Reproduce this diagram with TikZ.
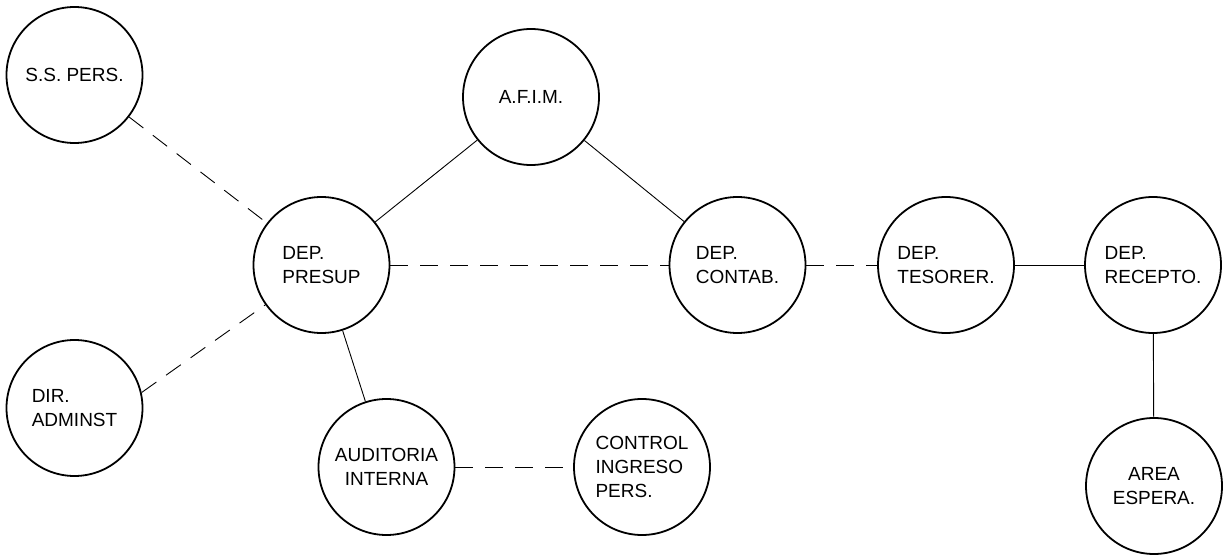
\documentclass[tikz,border=0pt]{standalone}
\usepackage{fontspec}
\setmainfont{Liberation Sans}
\newdimen\unitsize
\setlength{\unitsize}{0.5pt}

\begin{document}
\begin{tikzpicture}[x=\unitsize,y=-\unitsize]
\tikzset{office/.style={draw, circle, line width=0.9pt, minimum size=68pt, inner sep=0pt, align=left, font=\fontsize{9.5}{12}\selectfont}}%
\tikzset{link/.style={line width=0.45pt}}%
\tikzset{weaklink/.style={line width=0.45pt, dash pattern=on 9pt off 6pt}}%
\useasboundingbox (0,0) rectangle (1225,556);
\node[office] (ss) at (74.5,75) {S.S. PERS.};
\node[office] (afim) at (531,97) {A.F.I.M.};
\node[office] (presup) at (321.5,265) {DEP.\\PRESUP};
\node[office] (contab) at (737.5,265) {DEP.\\CONTAB.};
\node[office] (tesorer) at (946,265) {DEP.\\TESORER.};
\node[office] (recepto) at (1153,265) {DEP.\\RECEPTO.};
\node[office] (dir) at (74.5,408) {DIR.\\ADMINST};
\node[office, align=center] (audit) at (386.5,467) {AUDITORIA\\INTERNA};
\node[office] (control) at (642,467) {CONTROL\\INGRESO\\PERS.};
\node[office, align=center] (espera) at (1154,486) {AREA\\ESPERA.};
\draw[weaklink] (ss) -- (presup);
\draw[link] (presup) -- (afim);
\draw[link] (afim) -- (contab);
\draw[weaklink] (presup) -- (contab);
\draw[weaklink] (contab) -- (tesorer);
\draw[link] (tesorer) -- (recepto);
\draw[link] (recepto) -- (espera);
\draw[weaklink] (dir.13) -- (presup);
\draw[link] (presup) -- (audit);
\draw[weaklink] (audit) -- (control);
\end{tikzpicture}
\end{document}
